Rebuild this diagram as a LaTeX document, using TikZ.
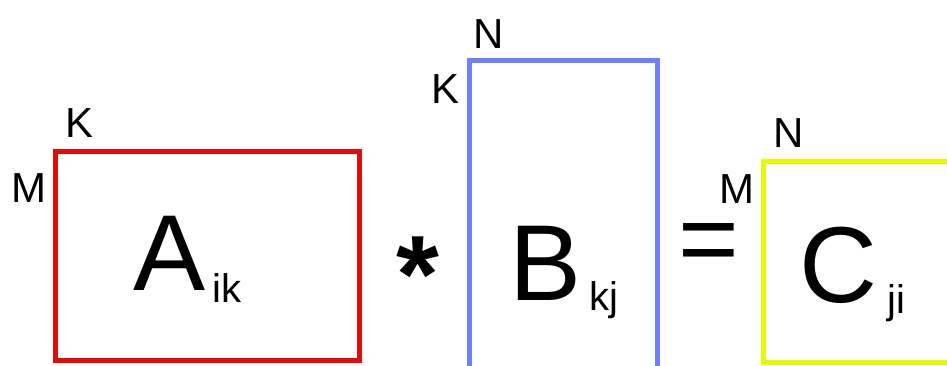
\documentclass[tikz,border=0pt]{standalone}
\usepackage{fontspec}
\setmainfont{Liberation Sans}
\usetikzlibrary{positioning}
\definecolor{matred}{RGB}{228,10,10}
\definecolor{matblue}{RGB}{110,128,252}
\definecolor{matyellow}{RGB}{230,250,0}
\begin{document}
\begin{tikzpicture}[x=1pt,y=-1pt]
    % Define styles
    \tikzstyle{matrixbox} = [rectangle, draw, line width=5pt, inner sep=0pt, outer sep=0pt, anchor=north west]
    \tikzstyle{dimlabel} = [inner sep=0pt, anchor=base, font=\fontsize{42}{42}\selectfont]
    \tikzstyle{bigletter} = [inner sep=0pt, anchor=base west, font=\fontsize{108}{108}\selectfont]
    \tikzstyle{subscript} = [inner sep=0pt, anchor=base west, font=\fontsize{40}{40}\selectfont]
    \tikzstyle{operator} = [inner sep=0pt, anchor=north, font=\fontsize{104}{104}\selectfont]

    \useasboundingbox (0,0) rectangle (947,365);
    \clip (0,0) rectangle (947,365);

    % Matrices
    \node [matrixbox, draw=matred, minimum width=304pt, minimum height=209pt] (matA) at (55.5,151.5) {};
    \node [matrixbox, draw=matblue, minimum width=188.5pt, minimum height=360pt] (matB) at (469,60) {};
    \node [matrixbox, draw=matyellow, minimum width=300pt, minimum height=201pt] (matC) at (763.5,161.5) {};

    % Dimension labels
    \node [dimlabel] (dimAK) at (79.5,137) {K};
    \node [dimlabel] (dimAM) at (29,202) {M};
    \node [dimlabel] (dimBN) at (488.5,48) {N};
    \node [dimlabel] (dimBK) at (445.5,103) {K};
    \node [dimlabel] (dimCN) at (788.5,147) {N};
    \node [dimlabel] (dimCM) at (736.5,203) {M};

    % Names with indices
    \node [bigletter] (letA) at (133,290) {A};
    \node [subscript] (subA) at ([shift={(7.3,12)}]letA.base east) {ik};
    \node [bigletter] (letB) at (509,300) {B};
    \node [subscript] (subB) at ([shift={(8.3,10)}]letB.base east) {kj};
    \node [bigletter] (letC) at (799.6,302) {C};
    \node [subscript] (subC) at ([shift={(9,11)}]letC.base east) {ji};

    % Operators
    \node [operator, font=\fontsize{110}{110}\selectfont\bfseries] (times) at (418,237) {*};
    \node [operator] (equals) at (709,223) {=};
\end{tikzpicture}
\end{document}
